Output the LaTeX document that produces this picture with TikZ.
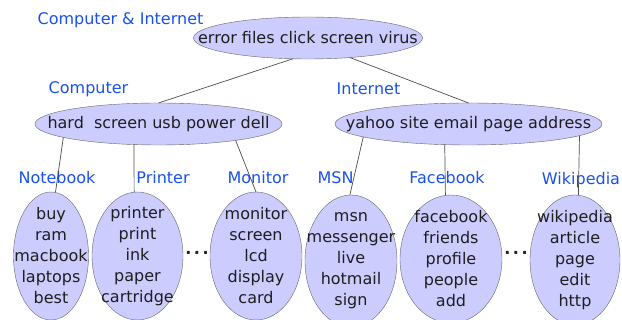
\documentclass[tikz,border=0pt]{standalone}
\usepackage{fontspec}
\setmainfont{DejaVu Sans}
\usetikzlibrary{shapes.geometric}
\definecolor{lav}{RGB}{204,204,255}
\definecolor{topicblue}{RGB}{25,80,240}
\definecolor{ink}{RGB}{30,30,30}
\begin{document}
\begin{tikzpicture}[
  x=1pt,y=1pt,
  font=\fontsize{16}{21}\selectfont,
  topic/.style={ellipse,draw=black!60,fill=lav,inner sep=0pt,outer sep=0pt},
  words/.style={align=center,text=ink,inner sep=0pt},
  tag/.style={text=topicblue,inner sep=0pt},
  link/.style={draw=black!70,line width=0.7pt},
  gap/.style={text=ink,inner sep=0pt,font=\fontsize{16}{21}\bfseries}
]
\useasboundingbox (0,0) rectangle (622,320);
% top level
\node[topic,minimum width=229pt,minimum height=42pt,
  label={[words]center:error files click screen virus}] (root) at (308,282) {};
\node[tag] (rootlbl) at (120.5,300) {Computer \& Internet};
% second level
\node[topic,minimum width=247pt,minimum height=42pt,
  label={[words]center:hard\ \ screen usb power dell}] (comp) at (158.5,196) {};
\node[topic,minimum width=267pt,minimum height=42pt,
  label={[words]center:yahoo site email page address}] (inet) at (468.5,196) {};
\node[tag] (complbl) at (88.5,231) {Computer};
\node[tag] (inetlbl) at (368.5,231) {Internet};
% leaves
\node[topic,minimum width=75pt,minimum height=128pt,
  label={[words]center:buy\\ram\\macbook\\laptops\\best}] (note) at (51,64) {};
\node[topic,minimum width=91pt,minimum height=128pt,
  label={[words]center:printer\\print\\ink\\paper\\cartridge}] (prin) at (137.5,64) {};
\node[topic,minimum width=92pt,minimum height=128pt,
  label={[words]center:monitor\\screen\\lcd\\display\\card}] (moni) at (256,64) {};
\node[topic,minimum width=92pt,minimum height=132pt,
  label={[words]center:msn\\messenger\\live\\hotmail\\sign}] (msn) at (351,59) {};
\node[topic,minimum width=102pt,minimum height=128pt,
  label={[words]center:facebook\\friends\\profile\\people\\add}] (face) at (451,61) {};
\node[topic,minimum width=90pt,minimum height=130pt,
  label={[words]center:wikipedia\\article\\page\\edit\\http}] (wiki) at (575,60) {};
\node[tag] (notelbl) at (57,142) {Notebook};
\node[tag] (prinlbl) at (163,142) {Printer};
\node[tag] (monilbl) at (258,142) {Monitor};
\node[tag] (msnlbl) at (335.5,142) {MSN};
\node[tag] (facelbl) at (447,142) {Facebook};
\node[tag] (wikilbl) at (581,140) {Wikipedia};
\node[gap] (dotsa) at (197,65) {·\hspace{2.5pt}·\hspace{2.5pt}·};
\node[gap] (dotsb) at (516,65) {·\hspace{2.5pt}·\hspace{2.5pt}·};
% connectors
\draw[link] (root.234) -- (comp.north);
\draw[link] (root.335) -- (inet.north);
\draw[link] (comp.188) -- (note.86);
\draw[link] (comp.220) -- (prin.93);
\draw[link] (comp.348) -- (moni.north);
\draw[link] (inet.187) -- (msn.91);
\draw[link] (inet.221) -- (face.95);
\draw[link] (inet.354) -- (wiki.87);
\end{tikzpicture}
\end{document}
